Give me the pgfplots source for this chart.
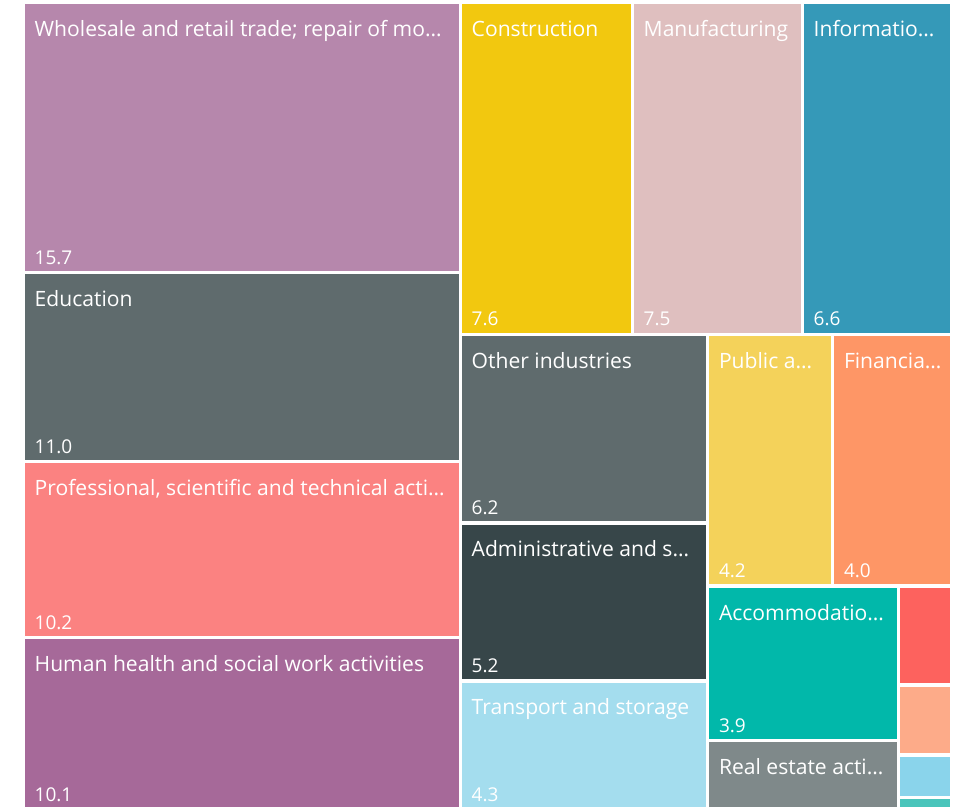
\documentclass[border=0pt]{standalone}
\usepackage{fontspec}
\setmainfont{Open Sans}
\usepackage{pgfplots}
\pgfplotsset{compat=1.18}
\definecolor{cWhole}{HTML}{B687AC}
\definecolor{cEdu}{HTML}{5F6B6D}
\definecolor{cProf}{HTML}{FB8281}
\definecolor{cHealth}{HTML}{A66999}
\definecolor{cCons}{HTML}{F2C80F}
\definecolor{cManu}{HTML}{DFBFBF}
\definecolor{cInfo}{HTML}{3599B8}
\definecolor{cOther}{HTML}{5F6B6D}
\definecolor{cPub}{HTML}{F4D25A}
\definecolor{cFin}{HTML}{FE9666}
\definecolor{cAdm}{HTML}{374649}
\definecolor{cTrans}{HTML}{A4DDEE}
\definecolor{cAcc}{HTML}{01B8AA}
\definecolor{cReal}{HTML}{7F898A}
\definecolor{cRed}{HTML}{FD625E}
\definecolor{cSalm}{HTML}{FDAB89}
\definecolor{cLblue}{HTML}{8AD4EB}
\definecolor{cTeal}{HTML}{4AC5BB}
% rectangle: x0 x1 y0 y1 colour
\newcommand{\rect}[5]{\addplot[fill=#5, draw=none] coordinates {(#1,#3) (#2,#3) (#2,#4) (#1,#4)} -- cycle;}
\newcommand{\lab}[3]{\node[anchor=base west, text=white, inner sep=0pt, font=\fontsize{21.1}{25}\selectfont] at (axis cs:#1,#2) {#3};}
\newcommand{\val}[3]{\node[anchor=base west, text=white, inner sep=0pt, font=\fontsize{19}{23}\selectfont] at (axis cs:#1,#2) {#3};}
\begin{document}
\begin{tikzpicture}
\begin{axis}[scale only axis, width=959pt, height=807pt,
  xmin=0, xmax=959, ymin=0, ymax=807, y dir=reverse,
  hide axis, clip=true]
\addplot[fill=white, draw=none] coordinates {(0,0) (959,0) (959,807) (0,807)} -- cycle;
\rect{25}{458.7}{4.3}{271}{cWhole}
\rect{25}{458.7}{274.3}{460}{cEdu}
\rect{25}{458.7}{463.3}{636}{cProf}
\rect{25}{458.7}{639.3}{807}{cHealth}
\rect{462}{630.7}{4.3}{332.7}{cCons}
\rect{634}{800.7}{4.3}{332.7}{cManu}
\rect{804}{950}{4.3}{332.7}{cInfo}
\rect{462}{706}{336}{521.3}{cOther}
\rect{462}{706}{524.7}{679}{cAdm}
\rect{462}{706}{682.7}{807}{cTrans}
\rect{709.3}{830.7}{336}{584.3}{cPub}
\rect{834.3}{950}{336}{584.3}{cFin}
\rect{709.3}{896.7}{588.3}{739}{cAcc}
\rect{709.3}{896.7}{742.3}{807}{cReal}
\rect{900}{950}{588.3}{683.3}{cRed}
\rect{900}{950}{686.7}{753.3}{cSalm}
\rect{900}{950}{756.7}{795.7}{cLblue}
\rect{900}{950}{799}{807}{cTeal}
\lab{34.5}{36.5}{Wholesale and retail trade; repair of mo…}
\val{34.5}{264}{15.7}
\lab{34.5}{306.3}{Education}
\val{34.5}{453}{11.0}
\lab{34.5}{495.3}{Professional, scientific and technical acti…}
\val{34.5}{629}{10.2}
\lab{34.5}{671.3}{Human health and social work activities}
\val{34.5}{801}{10.1}
\lab{471.5}{36.5}{Construction}
\val{471.5}{325.7}{7.6}
\lab{643.5}{36.5}{Manufacturing}
\val{643.5}{325.7}{7.5}
\lab{813.5}{36.5}{Informatio…}
\val{813.5}{325.7}{6.6}
\lab{471.5}{368}{Other industries}
\val{471.5}{514.3}{6.2}
\lab{471.5}{556.7}{Administrative and s…}
\val{471.5}{672}{5.2}
\lab{471.5}{714.7}{Transport and storage}
\val{471.5}{801}{4.3}
\lab{718.8}{368}{Public a…}
\val{718.8}{577.3}{4.2}
\lab{843.8}{368}{Financia…}
\val{843.8}{577.3}{4.0}
\lab{718.8}{620.3}{Accommodatio…}
\val{718.8}{732}{3.9}
\lab{718.8}{774.3}{Real estate acti…}
\end{axis}
\end{tikzpicture}
\end{document}
